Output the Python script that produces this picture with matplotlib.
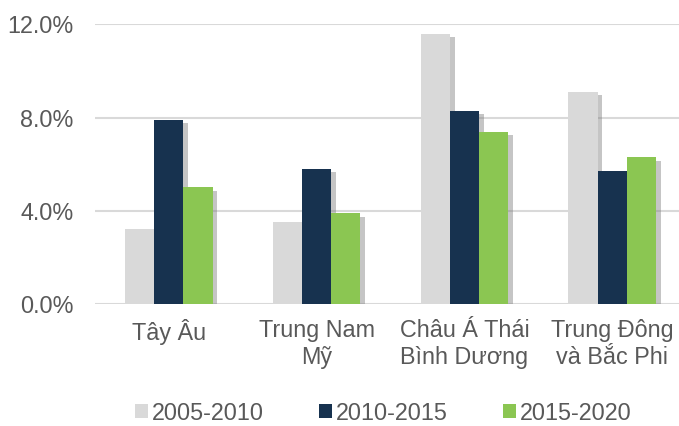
import matplotlib
matplotlib.use("Agg")
import matplotlib.pyplot as plt
import matplotlib.patheffects as pe
from matplotlib.patches import Patch
import numpy as np

categories = ["Tây Âu", "Trung Nam\nMỹ", "Châu Á Thái\nBình Dương", "Trung Đông\nvà Bắc Phi"]
series_names = ["2005-2010", "2010-2015", "2015-2020"]
s2005_2010 = [3.2, 3.5, 11.6, 9.1]
s2010_2015 = [7.9, 5.8, 8.3, 5.7]
s2015_2020 = [5.0, 3.9, 7.4, 6.3]
yticks = [0, 4, 8, 12]
ytick_labels = ["0.0%", "4.0%", "8.0%", "12.0%"]

colors = ["#d9d9d9", "#17324f", "#8bc652"]
text_color = "#595959"
fs = 16.8

plt.rcParams['font.family'] = ['Liberation Sans', 'DejaVu Sans']

fig = plt.figure(figsize=(6.79, 4.26), dpi=100)
W, H = 679, 426
left, right, bottom, top = 95, 686, 304, 24.3
ax = fig.add_axes([left / W, 1 - bottom / H, (right - left) / W, (bottom - top) / H])

x = np.arange(len(categories))
bw = 0.197
shadow = [pe.SimplePatchShadow(offset=(3.5, -2.5), shadow_rgbFace='#7f7f7f', alpha=0.45), pe.Normal()]
for i, (vals, name) in enumerate(zip([s2005_2010, s2010_2015, s2015_2020], series_names)):
    bars = ax.bar(x + (i - 1) * bw, vals, width=bw, color=colors[i], label=name, zorder=3 + i)
    for b in bars:
        b.set_path_effects(shadow)

ax.set_xlim(-0.5, 3.5)
ax.set_ylim(0, 12)
ax.set_yticks(yticks)
ax.set_yticklabels(ytick_labels)
ax.set_xticks(x)
ax.set_xticklabels(categories)
ax.tick_params(axis='y', length=0, pad=15.5, labelsize=fs, labelcolor=text_color)
ax.tick_params(axis='x', length=0, pad=11, labelsize=fs, labelcolor=text_color)
ax.grid(axis='y', color='#d9d9d9', linewidth=1.5, zorder=0)
ax.set_axisbelow(True)
for s in ax.spines.values():
    s.set_visible(False)

leg_handles = [Patch(facecolor=c) for c in colors]
fig.legend(leg_handles, series_names, loc='center', bbox_to_anchor=(383 / W, 1 - 413 / H),
           ncol=3, frameon=False, fontsize=fs, labelcolor=text_color,
           handlelength=0.56, handleheight=0.56, handletextpad=0.17, columnspacing=2.36,
           borderpad=0, borderaxespad=0)

fig.savefig("out.png", dpi=100)
